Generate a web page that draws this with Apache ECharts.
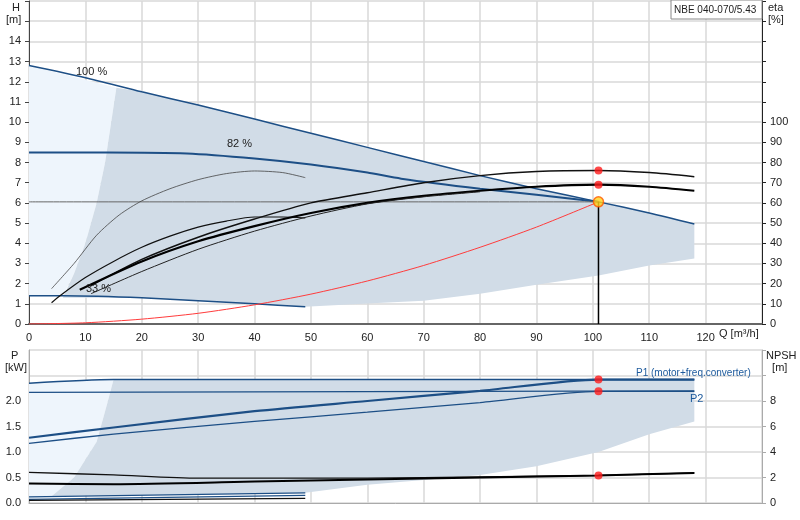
<!DOCTYPE html><html><head><meta charset="utf-8">
<script src="https://cdn.jsdelivr.net/npm/echarts@6/dist/echarts.min.js"></script>
<style>html,body{margin:0;background:#fff}#c{width:800px;height:520px}</style></head><body><div id="c"></div><script>
// ---- data (Q m3/h, H m, eta %, P kW, NPSH m) ----
const curve100=[[0,12.8],[10,12.2],[20,11.5],[30,10.85],[40,10.15],[50,9.45],[60,8.75],[70,8.05],[80,7.35],[90,6.7],[101,6.05],[110,5.5],[118,4.95]];
const curve82=[[0,8.5],[14,8.5],[28,8.45],[40,8.2],[50,7.9],[60,7.5],[66,7.2],[80,6.7],[90,6.4],[101,6.05]];
const curve33=[[0,1.4],[6,1.4],[20,1.3],[40,1.0],[49,0.85]];
const lightArea=[[0,12.8],[15.5,11.7],[13.5,8],[12,6],[10,4],[8,2.5],[6,1.4],[0,1.4]];
const greyArea=[[6,1.3],[8,2.5],[10,4],[12,6],[13.5,8],[15.5,11.7],[20,11.5],[30,10.85],[40,10.15],[50,9.45],[60,8.75],[70,8.05],[80,7.35],[90,6.7],[101,6.05],[110,5.5],[118,4.95],[118,3.25],[110,2.9],[101,2.4],[90,1.95],[80,1.5],[70,1.15],[60,1.02],[49,0.85],[40,1.0],[20,1.3]];
const systemCurve=[[0,0],[10,0.06],[20,0.24],[30,0.53],[40,0.95],[50,1.48],[60,2.13],[70,2.9],[80,3.8],[90,4.8],[101,6.05]];
const etaThin=[[4,17.5],[8,30],[12,44],[16,54],[20,61],[25,67],[30,71.5],[35,74.5],[40,75.8],[45,75],[49,72.5]];
const etaA=[[4,10.5],[5.5,14],[10,23],[15,31],[20,38],[25,43.5],[30,48],[35,51],[40,53],[45,53],[49,52.5]];
const etaUpper=[[11,19],[20,32],[30,43],[40,52],[50,60],[60,65],[70,70],[80,73.5],[90,75.5],[101,76],[110,75],[118,73]];
const etaMain=[[9,17],[20,31],[30,41],[40,48.5],[50,55],[60,60],[70,63.5],[80,66],[90,68],[101,69],[110,68],[118,66]];
const etaLow=[[11,15],[20,26],[30,37],[40,46],[50,53.5],[60,59.5],[70,63],[80,65.5]];
const opPoint=[101,6.05];
const etaDots=[[101,76],[101,69]];
const p1=[[0,1.28],[15,1.48],[40,1.8],[60,2.0],[80,2.2],[101,2.42],[118,2.42]];
const p1Max=[[0,2.35],[15,2.42],[118,2.42]];
const p2=[[0,1.17],[15,1.35],[40,1.6],[60,1.78],[80,1.97],[101,2.19],[118,2.19]];
const p2Max=[[0,2.17],[118,2.2]];
const pLight=[[0,2.35],[15,2.42],[14,2.0],[12,1.2],[8,0.5],[4,0.13],[0,0.08]];
const pGrey=[[4,0.13],[8,0.5],[12,1.2],[14,2.0],[15,2.42],[118,2.42],[118,1.6],[110,1.35],[101,1.0],[90,0.72],[80,0.55],[70,0.45],[60,0.36],[49,0.2]];
const npshA=[[0,2.4],[15,2.2],[30,1.95],[60,1.95],[80,2.05],[101,2.16],[118,2.36]];
const npshB=[[0,1.52],[15,1.48],[40,1.68],[70,1.92],[101,2.16],[118,2.36]];
const lowBlue1=[[0,0.12],[49,0.2]];
const lowBlue2=[[0,0.07],[49,0.15]];
const lowBlack=[[0,0.05],[49,0.09]];
const pDots=[[101,2.42],[101,2.19]];
const npshDot=[[101,2.16]];

const FONT='Liberation Sans, Arial, sans-serif';
function poly(pts,color,xi,yi,z){return {type:'custom',xAxisIndex:xi,yAxisIndex:yi,z:z,silent:true,data:[0],
 renderItem:(p,api)=>({type:'polygon',shape:{points:pts.map(d=>api.coord(d))},style:{fill:color}})};}
function ln(d,color,w,xi,yi,z){return {type:'line',data:d,xAxisIndex:xi,yAxisIndex:yi,showSymbol:false,smooth:0.25,lineStyle:{color:color,width:w},z:z||3,silent:true};}
const gridLine={show:true,lineStyle:{color:'#d9d9d9',width:1.5}};
const lab={fontSize:11,color:'#222',fontFamily:FONT};
function txt(l,t,s,size,col,lh){return {type:'text',left:l,top:t,z:100,style:{text:s,font:size+'px '+FONT,fill:col||'#222',lineHeight:lh||12}};}
const chart=echarts.init(document.getElementById('c'));
chart.setOption({animation:false,
grid:[{left:29,right:38,top:1,height:323},{left:29,right:38,top:350,height:153}],
xAxis:[{gridIndex:0,type:'value',min:0,max:130,interval:10,axisLine:{lineStyle:{color:'#666',width:2}},axisTick:{show:false},splitLine:gridLine,
  axisLabel:Object.assign({formatter:v=>v>120?'':v},lab)},
 {gridIndex:1,type:'value',min:0,max:130,interval:10,axisLine:{lineStyle:{color:'#aaa'}},axisTick:{show:false},splitLine:gridLine,axisLabel:{show:false}}],
yAxis:[{gridIndex:0,min:0,max:16,interval:1,axisLine:{show:true,lineStyle:{color:'#444'}},axisTick:{show:true,length:4},splitLine:gridLine,
  axisLabel:Object.assign({formatter:v=>v>14?'':v},lab)},
 {gridIndex:0,position:'right',min:0,max:160,interval:10,axisLine:{show:true,lineStyle:{color:'#222'}},axisTick:{show:true,length:4},splitLine:{show:false},
  axisLabel:Object.assign({formatter:v=>v>100?'':v},lab)},
 {gridIndex:1,min:0,max:3,interval:0.5,axisLine:{show:true,lineStyle:{color:'#aaa'}},axisTick:{show:false},splitLine:gridLine,
  axisLabel:Object.assign({formatter:v=>v>2.4?'':v.toFixed(1)},lab)},
 {gridIndex:1,position:'right',min:0,max:12,interval:2,axisLine:{show:true,lineStyle:{color:'#aaa'}},axisTick:{show:true,length:4},splitLine:{show:false},
  axisLabel:Object.assign({formatter:v=>v>8?'':v},lab)}],
graphic:[
 {type:'rect',z:99,shape:{x:671,y:0,width:91,height:19},style:{fill:'#fff',stroke:'#888'}},
 txt(674,4,'NBE 040-070/5.43',10),
 txt(6,2,'  H\n[m]',11),
 txt(768,2,'eta\n[%]',11),
 txt(719,328,'Q [m³/h]',11),
 txt(76,66,'100 %',11),
 txt(227,138,'82 %',11),
 txt(86,283,'33 %',11),
 txt(5,350,'  P\n[kW]',11),
 txt(766,350,'NPSH\n  [m]',11),
 txt(636,367,'P1 (motor+freq.converter)',10,'#1d5a9c'),
 txt(690,393,'P2',11,'#1d5a9c')
],
series:[
 poly(lightArea,'#eef5fc',0,0,1), poly(greyArea,'#d1dce7',0,0,1),
 ln(curve100,'#1d4f86',1.5,0,0), ln(curve82,'#1d4f86',2,0,0), ln(curve33,'#1d4f86',1.5,0,0),
 ln(systemCurve,'#ff3b3b',1,0,0),
 ln([[0,6.05],[101,6.05]],'#666',1,0,0), ln([[101,0],[101,6.05]],'#000',1.5,0,0),
 ln(etaThin,'#444',0.8,0,1), ln(etaA,'#111',1.2,0,1), ln(etaUpper,'#111',1.5,0,1), ln(etaMain,'#000',2.2,0,1), ln(etaLow,'#222',1,0,1),
 {type:'scatter',data:etaDots,xAxisIndex:0,yAxisIndex:1,symbolSize:8,itemStyle:{color:'#ff1a1a'},z:5},
 {type:'scatter',data:[opPoint],xAxisIndex:0,yAxisIndex:0,symbolSize:10,itemStyle:{color:'#ffd21a',borderColor:'#ff5a00',borderWidth:1.5},z:6},
 poly(pLight,'#eef5fc',1,2,1), poly(pGrey,'#d1dce7',1,2,1),
 ln(p1Max,'#1d4f86',1.5,1,2), ln(p2Max,'#1d4f86',1.2,1,2), ln(p1,'#1d4f86',2.2,1,2), ln(p2,'#1d4f86',1.3,1,2),
 ln(lowBlue1,'#1d4f86',1.2,1,2), ln(lowBlue2,'#1d4f86',1.2,1,2), ln(lowBlack,'#111',1.2,1,2),
 ln(npshA,'#111',1.3,1,3), ln(npshB,'#000',2,1,3),
 {type:'scatter',data:pDots,xAxisIndex:1,yAxisIndex:2,symbolSize:8,itemStyle:{color:'#ff1a1a'},z:5},
 {type:'scatter',data:npshDot,xAxisIndex:1,yAxisIndex:3,symbolSize:8,itemStyle:{color:'#ff1a1a'},z:5}
]});
</script></body></html>
